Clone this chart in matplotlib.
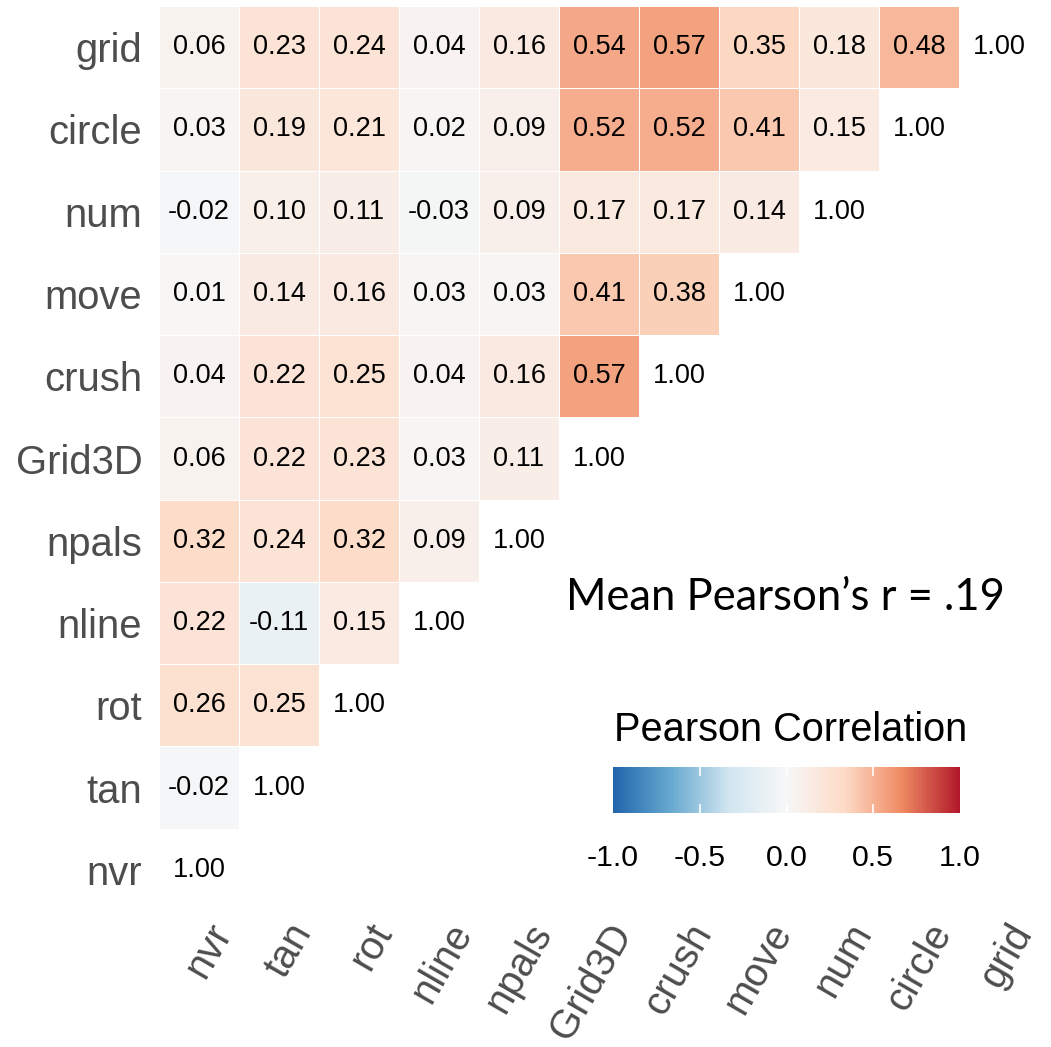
import numpy as np
import matplotlib
matplotlib.use("Agg")
import matplotlib.pyplot as plt
from matplotlib.colors import LinearSegmentedColormap, Normalize
import matplotlib.colorbar as mcolorbar
import matplotlib.transforms as mtransforms

# Variables in axis order (x left->right, y bottom->top)
variables = ["nvr", "tan", "rot", "nline", "npals", "Grid3D",
             "crush", "move", "num", "circle", "grid"]

# Lower-triangle correlations: each row lists r with the variables before it
corr_rows = {
    "tan":    [-0.02],
    "rot":    [0.26, 0.25],
    "nline":  [0.22, -0.11, 0.15],
    "npals":  [0.32, 0.24, 0.32, 0.09],
    "Grid3D": [0.06, 0.22, 0.23, 0.03, 0.11],
    "crush":  [0.04, 0.22, 0.25, 0.04, 0.16, 0.57],
    "move":   [0.01, 0.14, 0.16, 0.03, 0.03, 0.41, 0.38],
    "num":    [-0.02, 0.10, 0.11, -0.03, 0.09, 0.17, 0.17, 0.14],
    "circle": [0.03, 0.19, 0.21, 0.02, 0.09, 0.52, 0.52, 0.41, 0.15],
    "grid":   [0.06, 0.23, 0.24, 0.04, 0.16, 0.54, 0.57, 0.35, 0.18, 0.48],
}
colorbar_ticks = [-1.0, -0.5, 0.0, 0.5, 1.0]
legend_title = "Pearson Correlation"
mean_label = "Mean Pearson\u2019s r = .19"

n = len(variables)
mat = np.full((n, n), np.nan)
for i, name in enumerate(variables):
    mat[i, i] = 1.0
    for j, v in enumerate(corr_rows.get(name, [])):
        mat[i, j] = v

# 7-class RdBu, reversed (blue -> white -> red)
cmap = LinearSegmentedColormap.from_list(
    "rdbu7",
    ["#2166AC", "#67A9CF", "#D1E5F0", "#F7F7F7", "#FDDBC7", "#EF8A62", "#B2182B"],
)
norm = Normalize(vmin=-1, vmax=1)

W, H = 1051, 1047
fig = plt.figure(figsize=(W / 100, H / 100), dpi=100)
plt.rcParams["font.family"] = ["Liberation Sans", "DejaVu Sans"]

ax = fig.add_axes([159 / W, 1 - 911 / H, 880 / W, 905 / H])

# Tiles only below the diagonal; diagonal gets a label without a tile
tiles = np.ma.masked_invalid(np.where(np.tril(np.ones((n, n)), -1) > 0, mat, np.nan))
edges = np.arange(n + 1) - 0.5
ax.pcolormesh(edges, edges, tiles, cmap=cmap, norm=norm,
              edgecolors="white", linewidth=0.4)

for i in range(n):
    for j in range(i + 1):
        ax.text(j, i, f"{mat[i, j]:.2f}", ha="center", va="center",
                fontsize=19.5, color="black")

ax.set_xlim(-0.5, n - 0.5)
ax.set_ylim(-0.5, n - 0.5)
for s in ax.spines.values():
    s.set_visible(False)

ax.set_xticks(range(n))
ax.set_yticks(range(n))
ax.set_yticklabels(variables, fontsize=28.8, color="#4D4D4D")
ax.set_xticklabels(variables, fontsize=28.8, color="#4D4D4D",
                   rotation=60, rotation_mode="anchor", ha="right", va="center")
ax.tick_params(axis="both", length=0)
ax.tick_params(axis="y", pad=12)
ax.tick_params(axis="x", pad=11)
offset = mtransforms.ScaledTranslation(24 / 100, 0, fig.dpi_scale_trans)
for lab in ax.get_xticklabels():
    lab.set_transform(lab.get_transform() + offset)

# Colour bar legend
cax = fig.add_axes([613 / W, 1 - 813 / H, 347 / W, 46 / H])
cb = mcolorbar.ColorbarBase(cax, cmap=cmap, norm=norm, orientation="horizontal")
cb.outline.set_visible(False)
cb.set_ticks(colorbar_ticks)
cb.set_ticklabels([f"{t:.1f}" for t in colorbar_ticks])
cax.tick_params(axis="x", length=0, pad=22, labelsize=21.8, labelcolor="black")
for t in colorbar_ticks[1:-1]:
    cax.plot([t, t], [0, 0.18], color="white", lw=1.2, transform=cax.get_xaxis_transform())
    cax.plot([t, t], [0.82, 1], color="white", lw=1.2, transform=cax.get_xaxis_transform())
fig.text(791 / W, 1 - 730 / H, legend_title, ha="center", va="center",
         fontsize=28.6, color="black")

fig.text(785 / W, 1 - 597 / H, mean_label, ha="center", va="center",
         fontsize=31.4, color="black", family=["Lato", "DejaVu Sans"])

fig.savefig("out.png", dpi=100, facecolor="white")
